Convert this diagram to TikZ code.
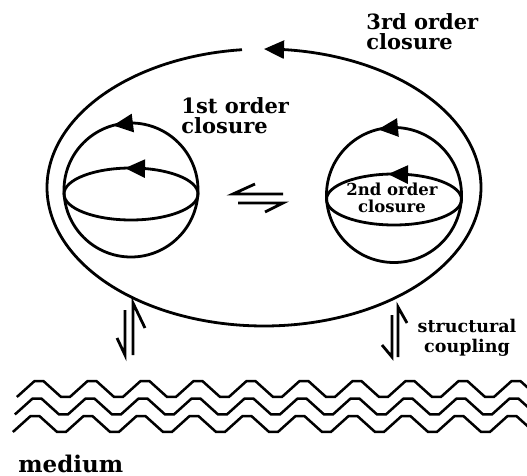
\documentclass[tikz,border=0pt]{standalone}
\usepackage{fontspec}
\setmainfont{DejaVu Serif}
\usetikzlibrary{arrows.meta}
\begin{document}
\begin{tikzpicture}[x=1pt,y=-1pt,line width=2.8pt,
  headarr/.style={-{Triangle[length=20pt,width=18pt]}},
  harp/.style={line width=2.8pt,line join=miter},
  wave/.style={line width=2.5pt,line join=miter},
  lbl/.style={font=\bfseries\fontsize{21}{20}\selectfont,inner sep=0pt,align=left},
  lbls/.style={font=\bfseries\fontsize{16.5}{17}\selectfont,inner sep=0pt,align=center},
  lblc/.style={font=\bfseries\fontsize{17.5}{20}\selectfont,inner sep=0pt,align=center}]
\useasboundingbox (0,0) rectangle (527,476);
\clip (0,0) rectangle (527,476);
% third order closure: big ellipse with gap and arrow
\draw plot[domain=264.18:-84.7,samples=300] ({264+217*cos(\x)},{187.5+138.5*sin(\x)});
\coordinate (bigbase) at (284,49.6);
\coordinate (bigtip) at (264,49);
\draw[headarr] (bigbase) -- (bigtip);
% left sphere
\node[circle,draw,minimum size=134pt,inner sep=0pt] (lsph) at (131,190) {};
\draw (131,194) ellipse[x radius=67,y radius=26];
\coordinate (la1) at (133,123); \coordinate (la2) at (113,125.5);
\draw[headarr] (la1) -- (la2);
\coordinate (lb1) at (145,168.6); \coordinate (lb2) at (125,168.1);
\draw[headarr] (lb1) -- (lb2);
% right sphere
\node[circle,draw,minimum size=135pt,inner sep=0pt] (rsph) at (394,195) {};
\draw (394,199.5) ellipse[x radius=67.5,y radius=25.5];
\coordinate (ra1) at (397,127.6); \coordinate (ra2) at (378,129.4);
\draw[headarr] (ra1) -- (ra2);
\coordinate (rb1) at (407,174.5); \coordinate (rb2) at (388,174.1);
\draw[headarr] (rb1) -- (rb2);
% middle harpoons
\draw[harp] (283,194) -- (233,194) -- (255,184);
\draw[harp] (238,203) -- (283,203) -- (265,212);
% vertical harpoons left
\draw[harp] (125,310) -- (125,355) -- (117,338);
\draw[harp] (133,355) -- (133,303) -- (145,328);
% vertical harpoons right
\draw[harp] (392,315) -- (392,357) -- (382,345);
\draw[harp] (398,357) -- (398,307) -- (407,323);
% waves
\foreach \dy/\dx in {0/0,17.5/-2,35/-4}
  \draw[wave] plot[samples at={0,...,60}] ({16.9+\dx+\x*8.8333},{389+\dy-9.2*sin((\x-1)*60)});
% labels (anchored at the baseline of their last line)
\node[lbl,anchor=base west] (third) at (365,50) {3rd order\\closure};
\node[lbl,anchor=base west] (first) at (180,133) {1st order\\closure};
\node[lbls,anchor=base] (second) at (392,212) {2nd order\\closure};
\node[lblc,anchor=base] (coupling) at (467,352) {structural\\coupling};
\node[font=\bfseries\fontsize{23}{23}\selectfont,inner sep=0pt,anchor=base west] (medium) at (17,472) {medium};
\end{tikzpicture}
\end{document}
